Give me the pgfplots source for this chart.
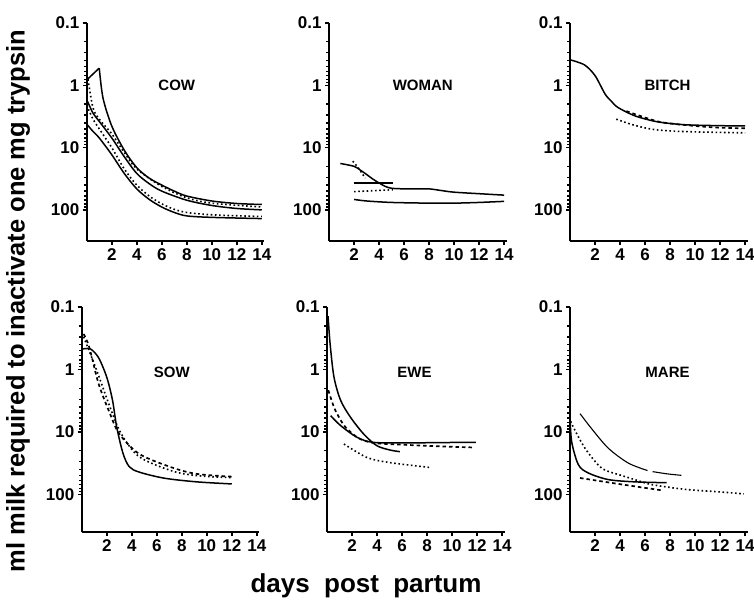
\documentclass[border=0pt]{standalone}
\usepackage{fontspec}
\setmainfont{Liberation Sans}
\usepackage{pgfplots}
\pgfplotsset{compat=1.18}

\pgfplotsset{
  mypanel/.style={
    scale only axis, width=177.5pt,
    xmin=0, xmax=14.2,
    y dir=reverse, ymin=0.1,
    axis x line=bottom, axis y line=left,
    axis line style={-, line width=2pt},
    xtick={2,4,6,8,10,12,14}, xticklabels={2,4,6,8,10,12,14},
    ytick={0.1,1,10,100}, yticklabels={0.1,1,10,100},
    minor ytick={}, tick align=outside, major tick length=4pt,
    tick style={line width=1.5pt, black},
    tick label style={font=\fontsize{17}{17}\selectfont\bfseries},
    clip=false,
  },
}
\tikzset{
  mysol/.style={black, line width=1.5pt},
  mythn/.style={black, line width=1.1pt},
  mydot/.style={black, line width=1.6pt, dash pattern=on 1.6pt off 2.6pt},
  mydsh/.style={black, line width=1.7pt, dash pattern=on 3.5pt off 3pt},
  myttl/.style={font=\fontsize{15}{15}\selectfont\bfseries},
}

\begin{document}
\begin{tikzpicture}
\useasboundingbox (0,0) rectangle (754pt,602pt);

% COW
\begin{semilogyaxis}[mypanel, height=218pt, ymax=316, at={(175.5pt,470pt)}, anchor=center]
\addplot[mysol] coordinates {(0,0.82) (1.0,0.53)};
\addplot[mysol, smooth] coordinates {(1.0,0.53) (1.3,1.6) (2,4.5) (3,11) (4,21) (5,31) (6,40) (7,50) (8,60) (10,72) (12,79) (14,82)};
\addplot[mydot, smooth] coordinates {(0.1,0.8) (0.5,2.3) (1,3.5) (2,6) (3,12) (4,22) (6,42) (8,64) (10,78) (14,90)};
\addplot[mysol, smooth] coordinates {(0,1.7) (0.5,2.8) (1,3.8) (2,7) (3,14) (4,26) (5,38) (6,50) (8,70) (10,85) (12,95) (14,100)};
\addplot[mydot, smooth] coordinates {(0,2.1) (0.5,3.5) (1,5) (2,10) (3,22) (4,40) (5,60) (6,80) (7,98) (8,110) (10,120) (14,128)};
\addplot[mysol, smooth] coordinates {(0,4.2) (0.5,5.5) (1,7) (2,13) (3,26) (4,46) (5,68) (6,90) (7,110) (8,125) (10,132) (14,138)};
\node[myttl] at (axis cs:7.2,1) {COW};
\end{semilogyaxis}

% WOMAN
\begin{semilogyaxis}[mypanel, height=218pt, ymax=316, at={(417.8pt,470pt)}, anchor=center]
\addplot[mysol, smooth] coordinates {(0.9,18) (2,20) (2.5,23) (3,27) (3.5,32) (4,37) (4.5,42) (5,45) (6,46) (7,46) (8,46) (9,49) (10,52) (12,55) (14,58)};
\addplot[mydot, smooth] coordinates {(1.9,16.5) (2.4,22) (2.9,31)};
\addplot[mysol] coordinates {(2,36.7) (5.1,36.7)};
\addplot[mydot] coordinates {(2,51) (5.1,47.5)};
\addplot[mysol, smooth] coordinates {(2,68) (3,72) (5,76) (8,78) (10,78) (12,76) (14,73)};
\node[myttl] at (axis cs:7.5,1) {WOMAN};
\end{semilogyaxis}

% BITCH
\begin{semilogyaxis}[mypanel, height=218pt, ymax=316, at={(658.8pt,470pt)}, anchor=center]
\addplot[mysol, smooth] coordinates {(0,0.39) (1.15,0.47) (2,0.7) (2.8,1.38) (3.3,1.8) (3.83,2.27) (5.2,3.1) (7,3.86) (9.2,4.3) (12,4.45) (14,4.5)};
\addplot[mydsh, smooth] coordinates {(4.5,2.6) (6,3.3) (7,3.8) (8,4.1) (10,4.5) (12,4.8) (14,4.9)};
\addplot[mydot, smooth] coordinates {(3.7,3.5) (5,4.3) (6.5,5.06) (8,5.4) (10,5.6) (14,5.8)};
\node[myttl] at (axis cs:7.8,1) {BITCH};
\end{semilogyaxis}

% SOW
\begin{semilogyaxis}[mypanel, height=225pt, ymax=400, at={(170.5pt,182.5pt)}, anchor=center]
\addplot[mysol, smooth] coordinates {(0.1,0.47) (0.7,0.47) (1.35,0.65) (2,1.33) (2.46,3.1) (2.8,8.4) (3.3,22) (3.8,36) (4.6,44) (6.6,55) (9.2,63) (12,68)};
\addplot[mydsh, smooth] coordinates {(0.15,0.27) (0.6,0.44) (1.35,1.7) (2.26,5.1) (3,10.7) (4.6,22.5) (7.2,37) (9.2,47) (12,52)};
\addplot[mydot, smooth] coordinates {(0.15,0.3) (1.2,1.04) (2.26,4) (3.16,10.7) (4.6,25) (7.2,42) (9.2,50) (12,54)};
\node[myttl] at (axis cs:7.2,1.1) {SOW};
\end{semilogyaxis}

% EWE
\begin{semilogyaxis}[mypanel, height=225pt, ymax=400, at={(415.8pt,182.5pt)}, anchor=center]
\addplot[mysol, smooth] coordinates {(0.08,0.14) (0.24,0.38) (0.55,1.31) (1.08,3.1) (1.87,5.8) (2.93,10.8) (3.98,16.6) (5.04,19.5) (5.83,20.7)};
\addplot[mysol, smooth] coordinates {(0.29,5.5) (1.08,7.9) (2.4,12.2) (3.7,14.7) (6.4,15) (9,14.8) (11.9,14.7)};
\addplot[mydsh, smooth] coordinates {(0.1,2.15) (0.55,4) (0.95,5.8) (1.5,8.5) (2.5,12.5) (3.7,15) (6,16) (9,17) (11.6,17.7)};
\addplot[mydot, smooth] coordinates {(1.35,15.6) (3.2,25.7) (5.04,31) (8.2,37)};
\node[myttl] at (axis cs:7.0,1.1) {EWE};
\end{semilogyaxis}

% MARE
\begin{semilogyaxis}[mypanel, height=225pt, ymax=400, at={(658.8pt,182.5pt)}, anchor=center]
\addplot[mythn, smooth] coordinates {(0.8,5.1) (1.73,8.9) (3.07,18.3) (4.67,31.6) (6.2,41.5)};
\addplot[mythn, smooth] coordinates {(6.6,43.2) (7.8,47) (8.9,49.5)};
\addplot[mysol, smooth] coordinates {(0,5.8) (0.13,14.4) (0.67,33.6) (1.47,45.5) (3.07,58) (5.2,63) (7.73,65)};
\addplot[mydot, smooth] coordinates {(0,5.8) (0.13,7.4) (1.2,18.3) (2.53,38) (3.87,48) (5.2,58) (6.5,69.5) (9.2,83) (11.9,91) (13.9,98)};
\addplot[mydsh, smooth] coordinates {(0.8,54.6) (3.87,68) (7.33,86)};
\node[myttl] at (axis cs:7.8,1.1) {MARE};
\end{semilogyaxis}

\node[rotate=90, font=\fontsize{25.5}{25.5}\selectfont\bfseries] at (18pt,301pt) {ml milk required to inactivate one mg trypsin};
\node[font=\fontsize{26}{26}\selectfont\bfseries] at (366pt,16pt) {days\hspace{0.55em}post\hspace{0.55em}partum};
\end{tikzpicture}
\end{document}
